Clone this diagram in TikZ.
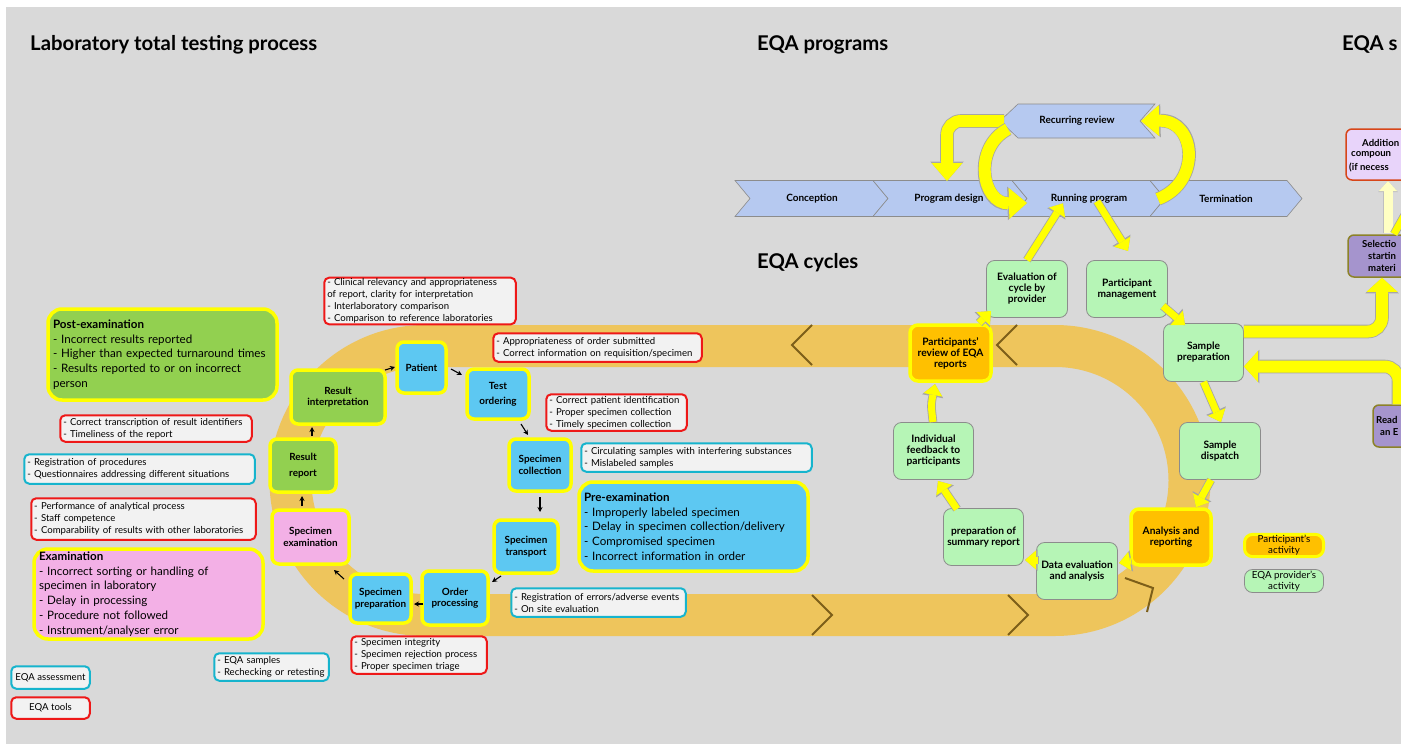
\documentclass[tikz,border=0pt]{standalone}
\usepackage{fontspec}
\setmainfont{Lato}
\usetikzlibrary{arrows.meta,calc}
\definecolor{bg}{RGB}{217,217,217}
\definecolor{bandc}{RGB}{238,197,92}
\definecolor{chevc}{RGB}{125,95,25}
\definecolor{pblue}{RGB}{93,200,242}
\definecolor{pgreen}{RGB}{146,208,80}
\definecolor{ppink}{RGB}{243,176,230}
\definecolor{tfill}{RGB}{242,242,242}
\definecolor{tred}{RGB}{238,24,24}
\definecolor{tcyan}{RGB}{22,180,205}
\definecolor{cgreen}{RGB}{182,245,182}
\definecolor{corange}{RGB}{255,192,0}
\definecolor{sblue}{RGB}{182,201,240}
\definecolor{lav}{RGB}{232,212,250}
\definecolor{purp}{RGB}{165,148,205}
\definecolor{olive}{RGB}{140,130,40}
\definecolor{addbord}{RGB}{215,70,25}
\definecolor{ylw}{RGB}{255,255,0}
\definecolor{paley}{RGB}{255,255,195}
\newcommand\myln[1]{\mbox{#1}}
\tikzset{
  ttl/.style={anchor=west, inner sep=0pt, font=\bfseries\fontsize{20.3}{22}\selectfont},
  procbox/.style={draw=ylw, line width=3.5pt, rounded corners=7pt, align=center, inner sep=1pt,
    font=\bfseries\fontsize{9.9}{11.5}\selectfont},
  bigbox/.style={draw=ylw, line width=3.5pt, rounded corners=14pt, align=left, inner xsep=5pt, inner ysep=2pt,
    font=\fontsize{11.6}{14.75}\selectfont},
  toolbox/.style={draw=tred, line width=2pt, fill=tfill, rounded corners=5pt, align=left,
    inner xsep=3pt, inner ysep=1pt, font=\fontsize{9.6}{12}\selectfont},
  assessbox/.style={toolbox, draw=tcyan},
  cyclebox/.style={draw=black!45, line width=0.8pt, fill=cgreen, rounded corners=8pt, align=center,
    inner sep=1pt, font=\bfseries\fontsize{10.2}{11}\selectfont},
  obox/.style={cyclebox, fill=corange, draw=ylw, line width=3.5pt},
  chevshape/.style={fill=sblue, draw=black!45, line width=0.6pt},
  chevtext/.style={font=\bfseries\fontsize{10}{11}\selectfont, inner sep=0pt},
  chevmark/.style={draw=chevc, line width=2pt},
  sarrow/.style={draw=black, line width=1.1pt, -{Stealth[length=5pt,width=5pt]}},
  yarrS/.style={draw=ylw, line width=7pt, -{Triangle[width=19pt,length=11pt,line width=0pt]},
    preaction={draw=black!35, line width=8.6pt, -{Triangle[width=21.5pt,length=12.5pt,line width=0pt]}}},
  yarrM/.style={draw=ylw, line width=12pt, -{Triangle[width=31pt,length=14pt,line width=0pt]},
    preaction={draw=black!35, line width=13.6pt, -{Triangle[width=33.5pt,length=15.5pt,line width=0pt]}}},
  yarrL/.style={draw=ylw, line width=12pt, -{Triangle[width=31pt,length=18pt,line width=0pt]},
    preaction={draw=black!35, line width=13.6pt, -{Triangle[width=33.5pt,length=19.5pt,line width=0pt]}}},
  frag/.style={anchor=west, inner sep=0pt, font=\bfseries\fontsize{9.6}{11}\selectfont},
}
\begin{document}
\begin{tikzpicture}[x=1pt,y=-1pt]
\useasboundingbox (0,0) rectangle (1401,744);
\clip (0,0) rectangle (1401,744);
\fill[white] (0,0) rectangle (1401,744);
\fill[bg] (6,7) rectangle (1401,744);

% ---------- titles ----------
\node[ttl] (t1) at (30,45) {Laboratory total testing process};
\node[ttl] (t2) at (757,45) {EQA programs};
\node[ttl] (t3) at (1342,45) {EQA s};
\node[ttl] (t4) at (757,263) {EQA cycles};

% ---------- band ----------
\draw[bandc, line width=42pt] (425,346) -- (1055,346) arc[start angle=-90, end angle=90, radius=134.5]
  -- (425,615) arc[start angle=90, end angle=270, radius=134.5] -- cycle;
\draw[chevmark] (812,325) -- (792,345) -- (812,365);
\draw[chevmark] (1017,325) -- (997,345) -- (1017,365);
\draw[chevmark] (812,595) -- (832,615) -- (812,635);
\draw[chevmark] (1008,595) -- (1028,615) -- (1008,635);
\draw[chevmark] (1125,578) -- (1153,588) -- (1147,612);

% ---------- left process ----------
\node[procbox, fill=pblue, minimum width=49, minimum height=51] (patient) at (421.5,367.5) {Patient};
\node[procbox, fill=pblue, minimum width=62, minimum height=50, font=\bfseries\fontsize{9.9}{15}\selectfont] (testord) at (498,394) {Test\\ordering};
\node[procbox, fill=pblue, minimum width=62, minimum height=52] (speccoll) at (540,465) {Specimen\\collection};
\node[procbox, fill=pblue, minimum width=64, minimum height=53] (spectrans) at (526,546.5) {Specimen\\transport};
\node[procbox, fill=pblue, minimum width=66, minimum height=54] (orderproc) at (455,598) {Order\\processing};
\node[procbox, fill=pblue, minimum width=61, minimum height=49] (specprep) at (380.5,598.5) {Specimen\\preparation};
\node[procbox, fill=ppink, minimum width=77, minimum height=54] (specexam) at (310.5,537) {Specimen\\examination};
\node[procbox, fill=pgreen, minimum width=66, minimum height=53, font=\bfseries\fontsize{9.9}{16}\selectfont] (resreport) at (303,465.5) {Result\\report};
\node[procbox, fill=pgreen, minimum width=94, minimum height=54] (resinterp) at (338,397) {Result\\interpretation};

\coordinate (a1s) at (385,370); \coordinate (a1e) at (395,367);
\coordinate (a2s) at (451,369); \coordinate (a2e) at (462,375);
\coordinate (a3s) at (521,424); \coordinate (a3e) at (528,435);
\coordinate (a4s) at (540,497); \coordinate (a4e) at (540,512);
\coordinate (a5s) at (501,576); \coordinate (a5e) at (492,582);
\coordinate (a6s) at (423,604); \coordinate (a6e) at (414,604);
\coordinate (a7s) at (344,579); \coordinate (a7e) at (334,570);
\coordinate (a8s) at (302,506); \coordinate (a8e) at (302,496);
\coordinate (a9s) at (312,436); \coordinate (a9e) at (312,427);
\foreach \i in {1,...,9} {\draw[sarrow] (a\i s) -- (a\i e);}

% ---------- category boxes ----------
\node[bigbox, fill=pgreen, minimum width=229, minimum height=91, text width=219] (post) at (162.5,354.5)
 {\textbf{Post-examination}\\- Incorrect results reported\\- Higher than expected turnaround times\\- Results reported to or on incorrect\\person};
\node[bigbox, fill=ppink, minimum width=229, minimum height=90, text width=219] (exam) at (148.5,594)
 {\textbf{Examination}\\- Incorrect sorting or handling of\\specimen in laboratory\\- Delay in processing\\- Procedure not followed\\- Instrument/analyser error};
\node[bigbox, fill=pblue, minimum width=229, minimum height=89, text width=219] (pre) at (693.5,526.5)
 {\textbf{Pre-examination}\\- Improperly labeled specimen\\- Delay in specimen collection/delivery\\- Compromised specimen\\- Incorrect information in order};

% ---------- EQA tools ----------
\node[toolbox, minimum height=45.5, text width=185.5] (tclin) at (420,301)
 {\myln{- Clinical relevancy and appropriateness}\\\myln{of report, clarity for interpretation}\\\myln{- Interlaboratory comparison}\\\myln{- Comparison to reference laboratories}};
\node[toolbox, minimum height=28.5, text width=202.5] (tord) at (597.5,347.5)
 {\myln{- Appropriateness of order submitted}\\\myln{- Correct information on requisition/specimen}};
\node[toolbox, minimum height=36.5, text width=134.5] (tpat) at (616.5,412.5)
 {\myln{- Correct patient identification}\\\myln{- Proper specimen collection}\\\myln{- Timely specimen collection}};
\node[toolbox, minimum height=26.5, text width=185.5] (ttrans) at (156,428.5)
 {\myln{- Correct transcription of result identifiers}\\\myln{- Timeliness of the report}};
\node[toolbox, minimum height=41.5, text width=218.5] (tperf) at (143.5,519)
 {\myln{- Performance of analytical process}\\\myln{- Staff competence}\\\myln{- Comparability of results with other laboratories}};
\node[toolbox, minimum height=37.5, text width=129.5] (tinteg) at (419,655)
 {\myln{- Specimen integrity}\\\myln{- Specimen rejection process}\\\myln{- Proper specimen triage}};
\node[toolbox, minimum width=78.5, minimum height=21.5, align=center] (tleg) at (50.5,708) {EQA tools};

% ---------- EQA assessment ----------
\node[assessbox, minimum height=29.5, text width=224.5] (areg) at (139.5,469)
 {\myln{- Registration of procedures}\\\myln{- Questionnaires addressing different situations}};
\node[assessbox, minimum height=28.5, text width=224.5] (acirc) at (696.5,457.5)
 {\myln{- Circulating samples with interfering substances}\\\myln{- Mislabeled samples}};
\node[assessbox, minimum height=28.5, text width=168.5] (aerr) at (598.5,602.5)
 {\myln{- Registration of errors/adverse events}\\\myln{- On site evaluation}};
\node[assessbox, minimum height=27.5, text width=108.5] (asamp) at (271.5,667)
 {\myln{- EQA samples}\\\myln{- Rechecking or retesting}};
\node[assessbox, minimum width=78.5, minimum height=22.5, align=center] (aleg) at (50.5,677.5) {EQA assessment};

% ---------- EQA programs ----------
\path[chevshape] (735,180.5) -- (873,180.5) -- (888,198.5) -- (873,216.5) -- (735,216.5) -- (750,198.5) -- cycle;
\path[chevshape] (873,180.5) -- (1012,180.5) -- (1027,198.5) -- (1012,216.5) -- (873,216.5) -- (888,198.5) -- cycle;
\path[chevshape] (1012,180.5) -- (1150,180.5) -- (1165,198.5) -- (1150,216.5) -- (1012,216.5) -- (1027,198.5) -- cycle;
\path[chevshape] (1150,180.5) -- (1287,180.5) -- (1302,198.5) -- (1287,216.5) -- (1150,216.5) -- (1165,198.5) -- cycle;
\path[chevshape] (1000,121) -- (1018,104) -- (1155,104) -- (1140,121) -- (1155,138) -- (1018,138) -- cycle;
\node[chevtext] (conc) at (812,198.5) {Conception};
\node[chevtext] (progdes) at (949,198.5) {Program design};
\node[chevtext] (runprog) at (1089,198.5) {Running program};
\node[chevtext] (term) at (1226,198.5) {Termination};
\node[chevtext] (recur) at (1077,121) {Recurring review};

\draw[yarrL, rounded corners=14pt] (1004,121) -| (947,181);
\draw[yarrL] (1008,129) .. controls (972,148) and (982,204) .. (1027,203);
\draw[yarrL] (1158,199) .. controls (1202,182) and (1196,120) .. (1141,121);

% ---------- EQA cycles ----------
\node[cyclebox, minimum width=81, minimum height=57] (evalprov) at (1027,289) {Evaluation of\\cycle by\\provider};
\node[cyclebox, minimum width=81, minimum height=57] (partmgmt) at (1127,289) {Participant\\management};
\node[cyclebox, minimum width=80, minimum height=58] (sampprep) at (1203.5,352.5) {Sample\\preparation};
\node[obox, minimum width=81, minimum height=56] (partrev) at (950.5,353) {Participants'\\review of EQA\\reports};
\node[cyclebox, minimum width=80, minimum height=57] (indfeed) at (933.5,451) {Individual\\feedback to\\participants};
\node[cyclebox, minimum width=81, minimum height=57] (sampdisp) at (1220,451) {Sample\\dispatch};
\node[obox, minimum width=80, minimum height=56] (analysis) at (1171,537) {Analysis and\\reporting};
\node[cyclebox, minimum width=81, minimum height=57] (dataeval) at (1077,571) {Data evaluation\\and analysis};
\node[cyclebox, minimum width=80, minimum height=57] (prepsum) at (983.5,537) {preparation of\\summary report};

\draw[yarrS] (evalprov.north) -- ($(runprog.south)+(-26,0)$);
\draw[yarrS] ($(runprog.south)+(8,-2)$) -- (1128,251);
\draw[yarrS] (1163,306) -- (1185,325);
\draw[yarrS] (sampprep.south) -- ($(sampdisp.north)+(1,0)$);
\draw[yarrS] ($(sampdisp.south)+(-9,0)$) -- ($(analysis.north)+(25,0)$);
\draw[yarrS] (1131,561) -- (1119,563);
\draw[yarrS] (1038,560) -- (1025,560);
\draw[yarrS] (957,509) -- (938,481);
\draw[yarrS] (933,422) .. controls (931,405) .. (935,384);
\draw[yarrS] (979,323) -- (991,311);

% ---------- right side ----------
\node[draw=addbord, fill=lav, line width=1.5pt, rounded corners=6pt, minimum width=84, minimum height=51] (addit) at (1388,154.5) {};
\node[draw=olive, fill=purp, line width=1.5pt, rounded corners=6pt, minimum width=82, minimum height=42] (select) at (1389,256) {};
\node[draw=olive, fill=purp, line width=1.5pt, rounded corners=6pt, minimum width=77, minimum height=42] (ready) at (1411.5,426) {};
\node[frag] (f1) at (1362,143) {Addition};
\node[frag] (f2) at (1351,155) {compoun};
\node[frag] (f3) at (1349,167) {(if necess};
\node[frag] (f4) at (1362,244) {Selectio};
\node[frag] (f5) at (1368,256) {startin};
\node[frag] (f6) at (1368,268) {materi};
\node[frag] (f7) at (1376,420) {Read};
\node[frag] (f8) at (1380,432) {an E};

\draw[yarrM, rounded corners=14pt] ($(sampprep.east)+(0,-21)$) -| ($(select.south)+(-7,0)$);
\draw[yarrM, rounded corners=14pt] ($(ready.north)+(-13,0)$) |- ($(sampprep.east)+(0,14)$);
\draw[draw=paley, line width=9pt, -{Triangle[width=18pt,length=10pt,line width=0pt]},
  preaction={draw=black!25, line width=10pt, -{Triangle[width=19.5pt,length=11pt,line width=0pt]}}]
  (1388,233) -- (1388,181);
\draw[yarrS] (1394,234) -- (1430,170);

% ---------- legend ----------
\node[obox, line width=3pt, minimum width=79, minimum height=22, font=\fontsize{9.8}{11}\selectfont] (legpart) at (1284,545.5) {Participant's\\activity};
\node[cyclebox, minimum width=79, minimum height=23, font=\fontsize{9.8}{11}\selectfont] (legprov) at (1284,581) {EQA provider's\\activity};
\end{tikzpicture}
\end{document}
